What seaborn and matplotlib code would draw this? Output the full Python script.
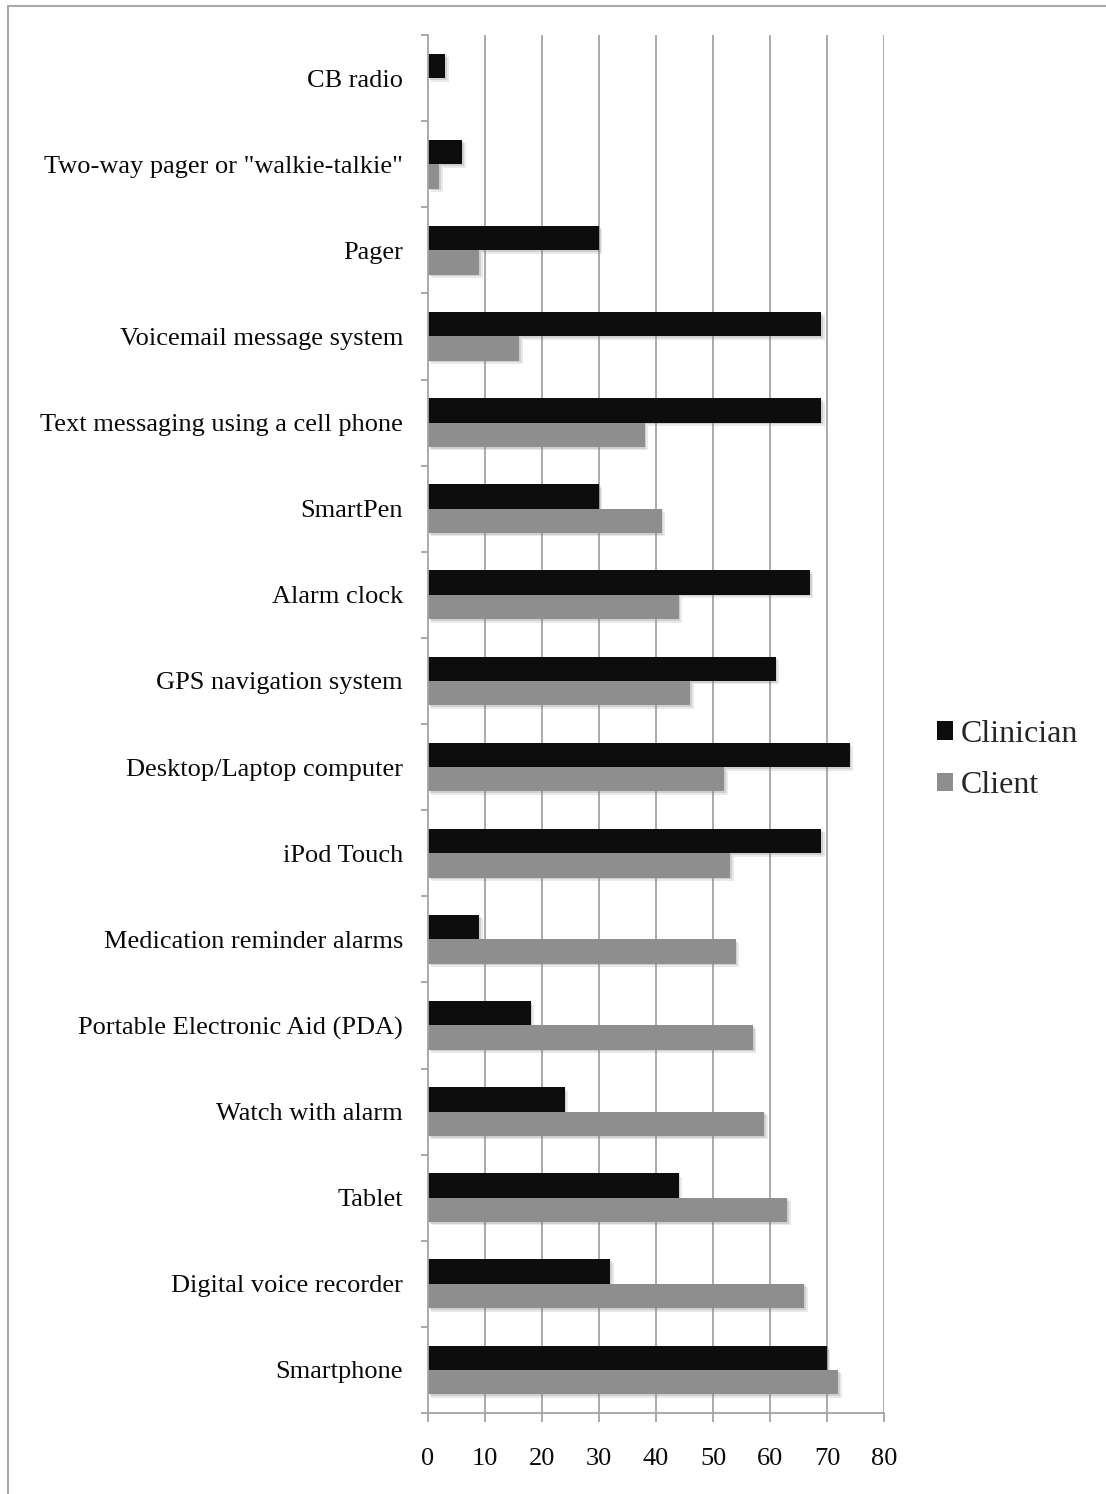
import numpy as np
import pandas as pd
import matplotlib
matplotlib.use("Agg")
import matplotlib.pyplot as plt
import matplotlib.patheffects as pe
from matplotlib.patches import Patch
from matplotlib.ticker import FixedLocator
import seaborn as sns

devices = [
    "CB radio",
    "Two-way pager or \"walkie-talkie\"",
    "Pager",
    "Voicemail message system",
    "Text messaging using a cell phone",
    "SmartPen",
    "Alarm clock",
    "GPS navigation system",
    "Desktop/Laptop computer",
    "iPod Touch",
    "Medication reminder alarms",
    "Portable Electronic Aid (PDA)",
    "Watch with alarm",
    "Tablet",
    "Digital voice recorder",
    "Smartphone",
]
clinician = [3, 6, 30, 69, 69, 30, 67, 61, 74, 69, 9, 18, 24, 44, 32, 70]
client = [0, 2, 9, 16, 38, 41, 44, 46, 52, 53, 54, 57, 59, 63, 66, 72]
groups = ["Clinician", "Client"]
x_ticks = [0, 10, 20, 30, 40, 50, 60, 70, 80]

df = pd.DataFrame({
    "device": devices * 2,
    "group": [groups[0]] * len(devices) + [groups[1]] * len(devices),
    "value": clinician + client,
})

sns.set_theme(style="white")
plt.rcParams["font.family"] = ["Liberation Serif", "DejaVu Serif"]

GRID = "#a4a4a4"
colors = {"Clinician": "#0d0d0d", "Client": "#8e8e8e"}

fig = plt.figure(figsize=(11.06, 14.94), dpi=100)
ax = fig.add_axes([428 / 1106, 1 - 1413 / 1494, (884 - 428) / 1106, (1413 - 35) / 1494])

sns.barplot(data=df, y="device", x="value", hue="group", order=devices,
            hue_order=groups, palette=colors, orient="h", width=0.565,
            dodge=True, saturation=1, legend=False, ax=ax)

# soft drop shadow under each bar
shadow = [pe.SimplePatchShadow(offset=(2.5, -2.5), shadow_rgbFace="#888888", alpha=0.18),
          pe.SimplePatchShadow(offset=(1.2, -1.2), shadow_rgbFace="#777777", alpha=0.22),
          pe.Normal()]
for bar in ax.patches:
    bar.set_linewidth(0)
    bar.set_path_effects(shadow)

ax.set_xlim(0, 80)
ax.set_ylim(len(devices) - 0.5, -0.5)
ax.set_xticks(x_ticks)
ax.set_xticklabels([str(t) for t in x_ticks])
ax.set_xlabel("")
ax.set_ylabel("")

ax.grid(False)
for t in x_ticks[1:]:
    ax.axvline(t, color=GRID, lw=1.3, zorder=0)

for side in ["top", "right"]:
    ax.spines[side].set_visible(False)
for side in ["left", "bottom"]:
    ax.spines[side].set_color(GRID)
    ax.spines[side].set_linewidth(1.3)

ax.yaxis.set_minor_locator(FixedLocator(np.arange(-0.5, len(devices), 1.0)))
ax.tick_params(axis="y", which="major", length=0, pad=18, labelsize=19, labelcolor="#0a0a0a")
ax.tick_params(axis="y", which="minor", left=True, length=5, width=1.3, color=GRID, direction="out")
ax.tick_params(axis="x", which="major", bottom=True, length=6.5, width=1.3, color=GRID,
               direction="out", pad=19, labelsize=19, labelcolor="#0a0a0a")

handles = [Patch(facecolor=colors[g], edgecolor="none", label=g) for g in groups]
fig.legend(handles=handles, loc="center left", bbox_to_anchor=(937 / 1106, 1 - 760 / 1494),
           frameon=False, fontsize=23, handlelength=0.5, handleheight=0.5,
           handletextpad=0.25, labelspacing=0.7, borderpad=0, borderaxespad=0)

# light frame along the top and left edges of the canvas
fig.add_artist(plt.Line2D([8 / 1106, 8 / 1106], [0, 1 - 6 / 1494], transform=fig.transFigure,
                          color="#a8a8a8", lw=1.5))
fig.add_artist(plt.Line2D([8 / 1106, 1], [1 - 6 / 1494, 1 - 6 / 1494], transform=fig.transFigure,
                          color="#a8a8a8", lw=1.5))

fig.savefig("out.png", dpi=100, facecolor="white")
